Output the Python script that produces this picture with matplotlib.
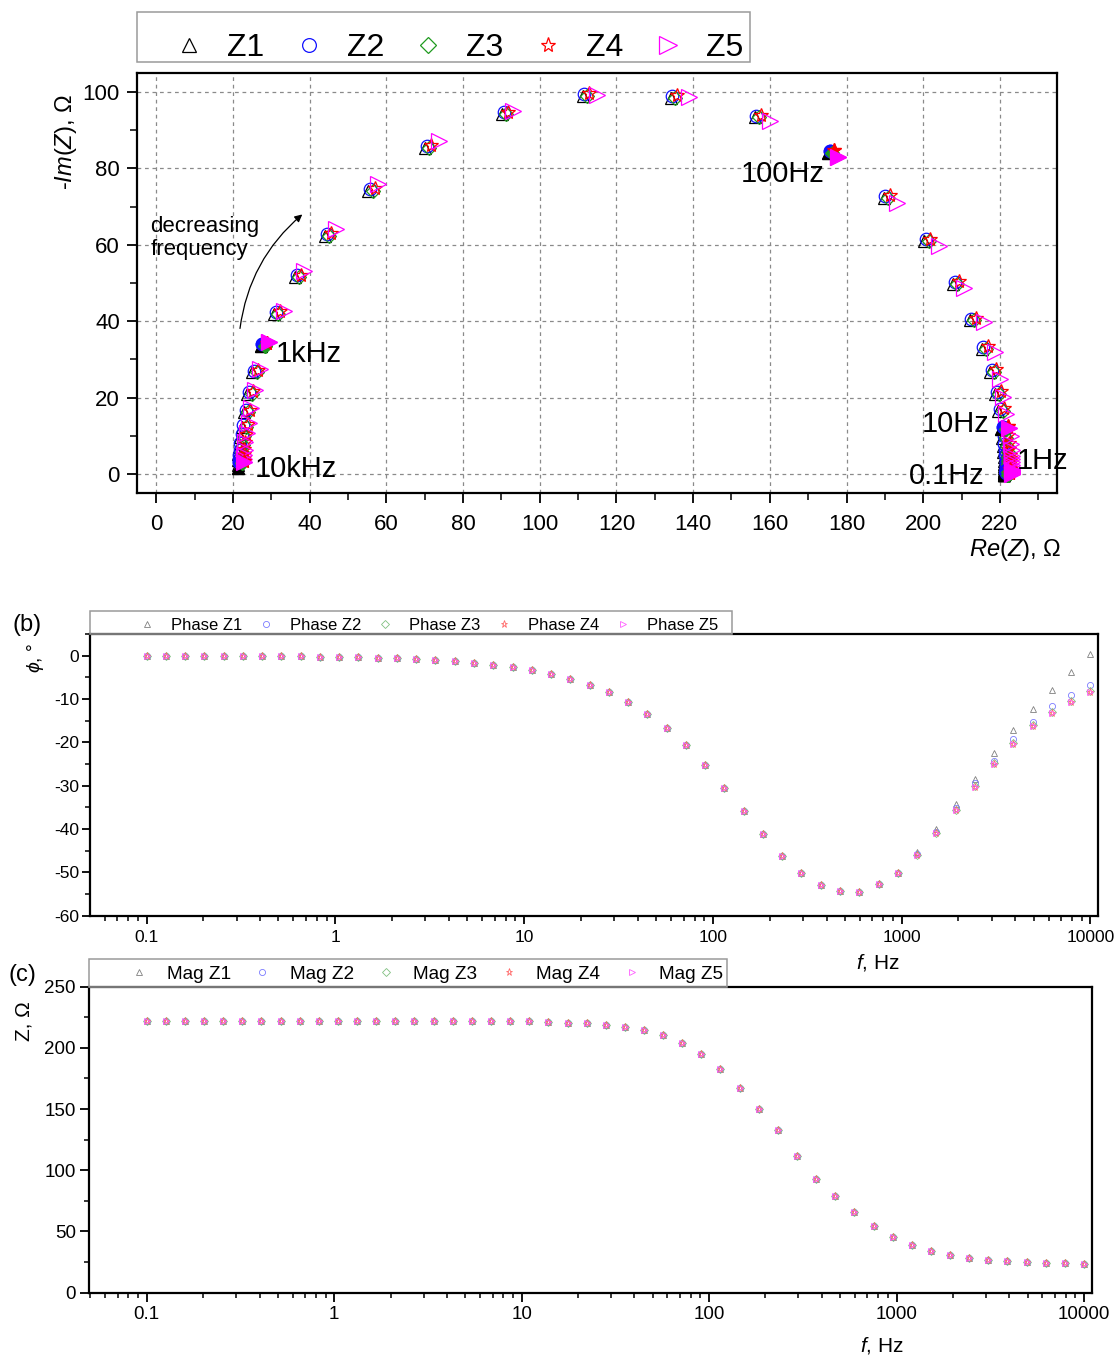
import numpy as np
import matplotlib
matplotlib.use('Agg')
import matplotlib.pyplot as plt
from matplotlib.lines import Line2D
from matplotlib.patches import Rectangle, FancyArrowPatch
from matplotlib import ticker

plt.rcParams['font.family'] = ['Liberation Sans', 'DejaVu Sans']
plt.rcParams['mathtext.fontset'] = 'custom'
plt.rcParams['mathtext.rm'] = 'Liberation Sans'
plt.rcParams['mathtext.it'] = 'Liberation Sans:italic'
plt.rcParams['mathtext.bf'] = 'Liberation Sans:bold'
plt.rcParams['axes.unicode_minus'] = False

# ---------------- data ----------------
series = ['Z1', 'Z2', 'Z3', 'Z4', 'Z5']

freq = [0.1, 0.1265, 0.16, 0.2024, 0.256, 0.3237, 0.4095, 0.518, 0.6551, 0.8286,
        1.048, 1.326, 1.677, 2.121, 2.683, 3.393, 4.292, 5.429, 6.866, 8.685,
        10.99, 13.89, 17.58, 22.23, 28.12, 35.56, 44.98, 56.9, 71.97, 91.03,
        115.1, 145.6, 184.2, 233.0, 294.7, 372.8, 471.5, 596.4, 754.3, 954.1,
        1207, 1526, 1931, 2442, 3089, 3907, 4942, 6251, 7906, 10000]

# Nyquist (Z1-Z4 cluster), Re(Z) and -Im(Z) in ohm
nyq_re = [221.9, 221.9, 221.9, 221.9, 221.9, 221.9, 221.9, 221.9, 221.9, 221.9,
          221.9, 221.9, 221.9, 221.9, 221.9, 221.9, 221.8, 221.7, 221.6, 221.4,
          221.2, 220.4, 219.6, 218.3, 216.1, 212.9, 208.6, 201.1, 190.5, 176.0,
          156.9, 135.0, 112.0, 91.0, 70.9, 56.1, 44.8, 37.0, 31.5, 28.0,
          25.8, 24.5, 23.7, 23.1, 22.6, 22.3, 22.1, 22.0, 22.0, 22.0]
nyq_im = [0.1, 0.2, 0.2, 0.3, 0.3, 0.4, 0.5, 0.6, 0.8, 0.9,
          1.1, 1.4, 1.9, 2.5, 3.1, 3.9, 4.8, 6.2, 7.9, 9.9,
          12.2, 17.0, 21.4, 27.1, 33.2, 40.6, 50.2, 61.3, 72.6, 84.5,
          93.7, 98.9, 99.3, 94.5, 85.8, 74.5, 62.8, 51.9, 42.3, 34.0,
          27.0, 21.4, 16.6, 12.8, 10.3, 8.0, 6.2, 5.0, 4.0, 3.2]
# small per-series shifts of Z1..Z4 around the cluster
nyq_re_shift = [-0.8, -0.4, 0.3, 0.8]
nyq_im_shift = [-0.4, 0.1, -0.4, 0.3]
# Z1 -Im at the six highest frequencies
z1_im_hf = [9.6, 7.2, 5.2, 3.6, 2.4, 1.6]
# Z5 Nyquist
z5_re = [223.3, 223.3, 223.3, 223.3, 223.3, 223.3, 223.3, 223.3, 223.3, 223.3,
         223.3, 223.3, 223.3, 223.3, 223.3, 223.3, 223.2, 223.1, 223.0, 222.8,
         222.5, 221.5, 220.9, 220.1, 218.7, 215.8, 210.7, 204.2, 193.3, 177.9,
         160.0, 139.0, 114.8, 92.9, 73.6, 57.9, 46.8, 38.6, 33.2, 29.3,
         27.0, 25.6, 24.6, 24.1, 23.6, 23.2, 23.0, 22.9, 22.8, 22.8]
z5_im = [0.1, 0.2, 0.2, 0.3, 0.3, 0.4, 0.5, 0.6, 0.8, 0.9,
         1.1, 1.4, 1.9, 2.5, 3.1, 3.9, 4.8, 6.2, 7.9, 9.9,
         12.0, 15.8, 20.1, 25.0, 31.9, 39.7, 48.6, 59.7, 71.0, 83.0,
         92.3, 98.7, 99.3, 95.1, 87.1, 75.8, 64.1, 53.2, 42.8, 34.6,
         27.5, 22.1, 17.3, 13.4, 10.8, 8.3, 6.4, 5.0, 4.0, 3.2]
decade_idx = [0, 10, 20, 29, 39, 49]
decade_labels = ['0.1Hz', '1Hz', '10Hz', '100Hz', '1kHz', '10kHz']

# Phase (deg)
phase_base = [0.0, -0.05, -0.05, -0.05, -0.05, -0.1, -0.1, -0.15, -0.15, -0.2,
              -0.25, -0.35, -0.5, -0.65, -0.8, -1.0, -1.25, -1.6, -2.1, -2.6,
              -3.3, -4.2, -5.3, -6.7, -8.5, -10.7, -13.4, -16.7, -20.6, -25.3,
              -30.6, -35.9, -41.2, -46.2, -50.2, -52.9, -54.4, -54.5, -52.8, -50.1,
              -45.9, -41.0, -35.6, -30.2, -25.0, -20.4, -16.3, -13.3, -10.6, -8.5]
phase_z1_hf = [-45.4, -40.1, -34.2, -28.4, -22.5, -17.1, -12.2, -7.9, -3.7, 0.4]
phase_z2_hf = [-45.8, -40.8, -35.2, -29.4, -24.2, -19.3, -15.3, -11.7, -9.0, -6.7]
phase_z3_hf = [-45.9, -41.0, -35.5, -30.0, -24.8, -20.2, -16.1, -13.1, -10.4, -8.2]

# Magnitude (ohm)
mag = [222.2, 222.2, 222.2, 222.2, 222.2, 222.2, 222.2, 222.2, 222.2, 222.2,
       222.2, 222.2, 222.2, 222.1, 222.1, 222.0, 222.0, 221.9, 221.8, 221.7,
       221.6, 221.1, 220.6, 219.9, 218.6, 216.7, 214.3, 210.2, 203.7, 195.3,
       182.7, 167.3, 149.7, 132.8, 111.3, 93.0, 79.0, 66.0, 54.4, 45.8,
       39.0, 34.4, 30.8, 28.2, 26.3, 25.5, 24.7, 24.2, 24.0, 23.7]

# ---------------- styles ----------------
markers = ['^', 'o', 'D', '*', '>']
colors_a = ['#000000', '#1010ff', '#1f9a1f', '#ff0000', '#ff00ff']
sizes_a = [9.0, 9.0, 7.5, 10.0, 11.5]
colors_bc = ['#808080', '#7a7aff', '#80c080', '#ff6a6a', '#ff5cff']
sizes_bc = [4.6, 4.4, 3.8, 5.2, 5.0]

fig = plt.figure(figsize=(11.17, 13.59), dpi=100)
axa = fig.add_axes([0.1229, 0.637, 0.8237, 0.3095])
axb = fig.add_axes([0.0806, 0.3262, 0.9026, 0.2073])
axc = fig.add_axes([0.0799, 0.0488, 0.8980, 0.2252])

# ---------------- panel (a) Nyquist ----------------
handles_a = []
for k, s in enumerate(series):
    if s == 'Z5':
        re = np.array(z5_re, dtype=float)
        im = np.array(z5_im, dtype=float)
    else:
        re = np.array(nyq_re, dtype=float) + nyq_re_shift[k]
        im = np.array(nyq_im, dtype=float) + nyq_im_shift[k]
        if s == 'Z1':
            im[-len(z1_im_hf):] = z1_im_hf
    axa.plot(re, im, ls='none', marker=markers[k], ms=sizes_a[k], mfc='none',
             mec=colors_a[k], mew=0.9, zorder=3 + k)
    axa.plot(re[decade_idx], im[decade_idx], ls='none', marker=markers[k],
             ms=sizes_a[k], mfc=colors_a[k], mec=colors_a[k], mew=0.9, zorder=10 + k)
    handles_a.append(Line2D([], [], ls='none', marker=markers[k], ms=sizes_a[k] * 1.1,
                            mfc='none', mec=colors_a[k], mew=0.9))

axa.set_xlim(-5, 235)
axa.set_ylim(-5, 105)
axa.xaxis.set_major_locator(ticker.MultipleLocator(20))
axa.xaxis.set_minor_locator(ticker.MultipleLocator(10))
axa.yaxis.set_major_locator(ticker.MultipleLocator(20))
axa.yaxis.set_minor_locator(ticker.MultipleLocator(10))
axa.grid(True, which='major', color='#8a8a8a', ls=(0, (3, 3)), lw=0.9)
axa.set_axisbelow(True)
axa.tick_params(which='major', direction='out', length=7.5, width=1.3, labelsize=16)
axa.tick_params(axis='x', which='major', pad=7.5)
axa.tick_params(axis='y', which='major', pad=5)
axa.tick_params(which='minor', direction='out', length=5, width=1.1)
for sp in axa.spines.values():
    sp.set_linewidth(1.6)
axa.set_xlabel(r'$Re(Z)$, Ω', fontsize=17)
axa.xaxis.set_label_coords(0.954, -0.104)
axa.set_ylabel('-' + r'$Im(Z)$, Ω', fontsize=17)
axa.yaxis.set_label_coords(-0.063, 0.835)

# frequency annotations
ann_pos = {'100Hz': (152.5, 78.4), '1kHz': (31.1, 31.4), '10kHz': (25.6, 1.3),
           '10Hz': (199.5, 13.1), '1Hz': (224.3, 3.4), '0.1Hz': (196.3, -0.5)}
for lab in decade_labels:
    x, y = ann_pos[lab]
    axa.text(x, y, lab, fontsize=21, ha='left', va='center', zorder=20)
axa.text(-1.6, 61.8, 'decreasing\nfrequency', fontsize=16, ha='left', va='center',
         linespacing=1.15, zorder=20)
arr = FancyArrowPatch((21.7, 37.4), (38.6, 68.4), connectionstyle='arc3,rad=-0.2',
                      arrowstyle='-|>', mutation_scale=11, lw=0.9, color='black', zorder=20)
axa.add_patch(arr)

axa.legend(handles_a, series, loc='center left', bbox_to_anchor=(0.1549, 0.9647),
           bbox_transform=fig.transFigure, ncol=5, frameon=False, borderpad=0,
           borderaxespad=0, handlelength=1.0, handletextpad=0.69, columnspacing=0.89,
           fontsize=23)
fig.patches.append(Rectangle((0.1229, 0.9542), 0.5485, 0.0368, transform=fig.transFigure,
                             fill=False, edgecolor='#9a9a9a', lw=1.1))

# ---------------- panel (b) phase ----------------
phases = []
for k, s in enumerate(series):
    p = list(phase_base)
    if s == 'Z1':
        p[-10:] = phase_z1_hf
    elif s == 'Z2':
        p[-10:] = phase_z2_hf
    elif s == 'Z3':
        p[-10:] = phase_z3_hf
    phases.append(p)

handles_b = []
handles_c = []
for k, s in enumerate(series):
    axb.plot(freq, phases[k], ls='none', marker=markers[k], ms=sizes_bc[k], mfc='none',
             mec=colors_bc[k], mew=0.6, zorder=3 + k)
    axc.plot(freq, mag, ls='none', marker=markers[k], ms=sizes_bc[k], mfc='none',
             mec=colors_bc[k], mew=0.6, zorder=3 + k)
    h = Line2D([], [], ls='none', marker=markers[k], ms=sizes_bc[k], mfc='none',
               mec=colors_bc[k], mew=0.6)
    handles_b.append(h)
    handles_c.append(h)

fmt = ticker.FuncFormatter(lambda v, p: f'{v:g}')
for ax in (axb, axc):
    ax.set_xscale('log')
    ax.xaxis.set_major_locator(ticker.LogLocator(base=10, numticks=12))
    ax.xaxis.set_minor_locator(ticker.LogLocator(base=10, subs=np.arange(2, 10), numticks=12))
    ax.xaxis.set_minor_formatter(ticker.NullFormatter())
    ax.xaxis.set_major_formatter(fmt)
    ax.tick_params(which='major', direction='out', length=5.5, width=1.3)
    ax.tick_params(which='minor', direction='out', length=3.6, width=1.1)
    for sp in ax.spines.values():
        sp.set_linewidth(1.6)

axb.set_xlim(0.0502, 11000)
axb.set_ylim(-60, 5)
axb.yaxis.set_major_locator(ticker.MultipleLocator(10))
axb.yaxis.set_minor_locator(ticker.MultipleLocator(5))
axb.tick_params(which='major', labelsize=12.5)
axb.tick_params(axis='x', which='major', pad=4.5)
axb.tick_params(axis='y', which='major', pad=2.5)
axb.set_xlabel(r'$f$, Hz', fontsize=15)
axb.xaxis.set_label_coords(0.781, -0.129)
axb.set_ylabel(r'$\phi$, °', fontsize=14)
axb.yaxis.set_label_coords(-0.0436, 0.917)
axb.legend(handles_b, ['Phase ' + s for s in series], loc='center left',
           bbox_to_anchor=(0.1242, 0.5401), bbox_transform=fig.transFigure, ncol=5,
           frameon=False, borderpad=0, borderaxespad=0, handlelength=1.0,
           handletextpad=0.94, columnspacing=0.92, fontsize=12)
fig.patches.append(Rectangle((0.0806, 0.5335), 0.5750, 0.01715, transform=fig.transFigure,
                             fill=False, edgecolor='#9a9a9a', lw=1.1))
fig.text(0.0116, 0.540, '(b)', fontsize=17, ha='left', va='center')

# ---------------- panel (c) magnitude ----------------
axc.set_xlim(0.0494, 11080)
axc.set_ylim(0, 250)
axc.yaxis.set_major_locator(ticker.MultipleLocator(50))
axc.yaxis.set_minor_locator(ticker.MultipleLocator(25))
axc.tick_params(which='major', labelsize=13.5, length=6.3)
axc.tick_params(axis='x', which='major', pad=3)
axc.tick_params(axis='y', which='major', pad=3.3)
axc.set_xlabel(r'$f$, Hz', fontsize=15)
axc.xaxis.set_label_coords(0.79, -0.138)
axc.set_ylabel('Z, Ω', fontsize=15)
axc.yaxis.set_label_coords(-0.056, 0.888)
axc.legend(handles_c, ['Mag ' + s for s in series], loc='center left',
           bbox_to_anchor=(0.1162, 0.2833), bbox_transform=fig.transFigure, ncol=5,
           frameon=False, borderpad=0, borderaxespad=0, handlelength=1.0,
           handletextpad=0.95, columnspacing=1.15, fontsize=13.7)
fig.patches.append(Rectangle((0.0799, 0.2740), 0.5709, 0.0204, transform=fig.transFigure,
                             fill=False, edgecolor='#9a9a9a', lw=1.1))
fig.text(0.0072, 0.2826, '(c)', fontsize=17, ha='left', va='center')

fig.savefig('out.png', dpi=100)
